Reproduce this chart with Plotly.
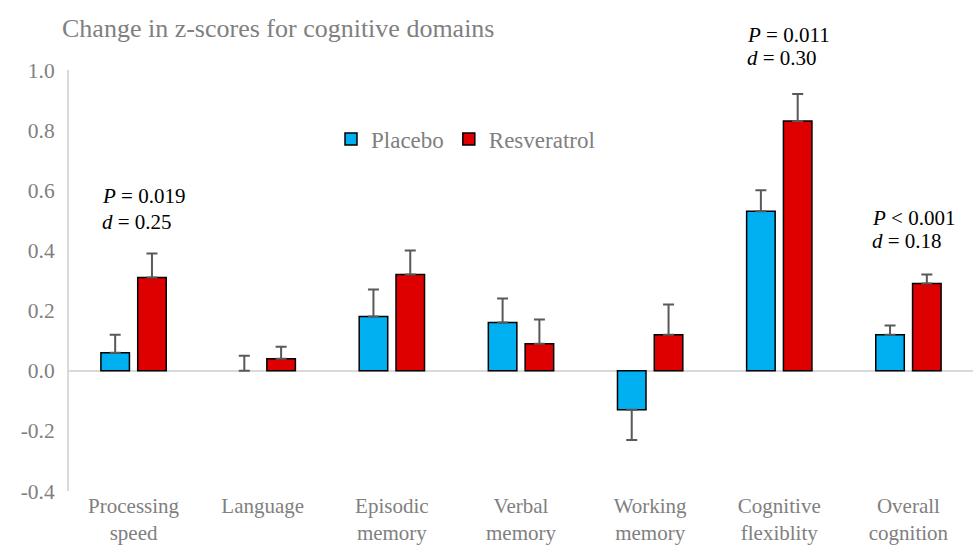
import plotly.graph_objects as go

categories = ["Processing<br>speed", "Language", "Episodic<br>memory", "Verbal<br>memory",
              "Working<br>memory", "Cognitive<br>flexiblity", "Overall<br>cognition"]
placebo = [0.06, 0.0, 0.18, 0.16, -0.13, 0.53, 0.12]
placebo_err = [0.06, 0.05, 0.09, 0.08, 0.10, 0.07, 0.03]
resveratrol = [0.31, 0.04, 0.32, 0.09, 0.12, 0.83, 0.29]
resveratrol_err = [0.08, 0.04, 0.08, 0.08, 0.10, 0.09, 0.03]
y_ticks = [-0.4, -0.2, 0.0, 0.2, 0.4, 0.6, 0.8, 1.0]
y_ticktext = ["-0.4", "-0.2", "0.0", "0.2", "0.4", "0.6", "0.8", "1.0"]
y_range = [-0.4, 1.0]

# statistics annotations: (category index, P text, d text, y of P line, y of d line)
stats = [
    (0, "<i>P</i> = 0.019", "<i>d</i> = 0.25", 0.58, 0.493),
    (5, "<i>P</i> = 0.011", "<i>d</i> = 0.30", 1.117, 1.04),
    (6, "<i>P</i> < 0.001", "<i>d</i> = 0.18", 0.507, 0.431),
]
stat_shift = {0: -34, 5: -34, 6: -38}


def split_err(vals, errs):
    up = [e if v >= 0 else 0 for v, e in zip(vals, errs)]
    down = [e if v < 0 else 0 for v, e in zip(vals, errs)]
    return up, down


fig = go.Figure()
for name, vals, errs, color in [("Placebo", placebo, placebo_err, "#00B0F0"),
                                ("Resveratrol", resveratrol, resveratrol_err, "#DE0000")]:
    up, down = split_err(vals, errs)
    fig.add_trace(go.Bar(
        x=categories, y=vals, name=name,
        marker=dict(color=color,
                    line=dict(color="#000000", width=[1.5 if v != 0 else 0 for v in vals])),
        error_y=dict(type="data", symmetric=False, array=up, arrayminus=down,
                     color="#595959", thickness=2, width=5.5),
    ))

serif = "Liberation Serif, Times New Roman, serif"
ann_font = dict(family=serif, size=21, color="#000000")
annotations = []
span = y_range[1] - y_range[0]
for idx, ptxt, dtxt, py, dy in stats:
    for txt, yy in [(ptxt, py), (dtxt, dy)]:
        annotations.append(dict(x=categories[idx], y=(yy - y_range[0]) / span, text=txt,
                                xref="x", yref="paper",
                                xshift=stat_shift[idx], xanchor="left", yanchor="middle",
                                showarrow=False, align="left", font=ann_font))

fig.update_layout(
    width=973, height=552,
    margin=dict(l=69, r=0, t=70, b=61),
    paper_bgcolor="white", plot_bgcolor="white",
    barmode="group", bargap=0.43, bargroupgap=0.225,
    font=dict(family=serif, size=21, color="#808080"),
    title=dict(text="Change in z-scores for cognitive domains", x=62 / 973, xanchor="left",
               y=1 - 28 / 552, yanchor="middle",
               font=dict(family=serif, size=26, color="#808080")),
    legend=dict(orientation="h", x=(331 - 69) / 904, y=(491 - 139) / 421,
                xanchor="left", yanchor="middle",
                font=dict(family=serif, size=23, color="#808080"),
                bgcolor="rgba(0,0,0,0)", traceorder="normal"),
    annotations=annotations,
    showlegend=True,
)
fig.update_yaxes(range=y_range, tickvals=y_ticks, ticktext=y_ticktext,
                 showgrid=False, zeroline=True, zerolinecolor="#D9D9D9", zerolinewidth=2,
                 showline=True, linecolor="#D9D9D9", linewidth=2, ticks="",
                 ticklabelstandoff=8, tickfont=dict(size=21.5, color="#808080"), automargin=False)
fig.update_xaxes(showgrid=False, showline=False, ticks="", automargin=False,
                 tickfont=dict(size=21, color="#808080"))

fig.write_html("out.html", config={"displayModeBar": False},
               post_script="document.body.style.margin='0';")
